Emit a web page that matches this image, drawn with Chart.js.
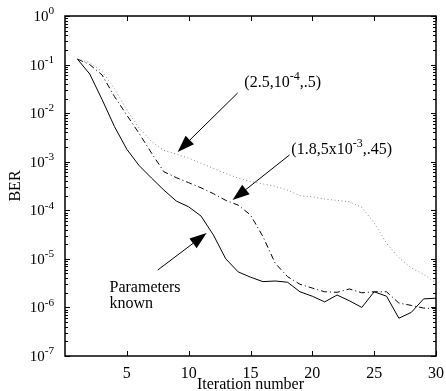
<!DOCTYPE html>
<html>
<head>
<meta charset="utf-8">
<script src="https://cdn.jsdelivr.net/npm/chart.js@4.4.0/dist/chart.umd.min.js"></script>
<style>
  body { margin: 0; background: #fff; }
  canvas { display: block; }
</style>
</head>
<body>
<canvas id="myChart" width="446" height="391"></canvas>
<script>
var iterations = [];
for (var i = 1; i <= 30; i++) iterations.push(i);

var berKnown = [0.13, 0.064, 0.019, 0.0053, 0.0018, 8.3e-4, 4.6e-4, 2.6e-4, 1.55e-4, 1.18e-4,
  7.6e-5, 3.1e-5, 1.0e-5, 5.4e-6, 4.2e-6, 3.4e-6, 3.5e-6, 3.3e-6, 2.1e-6, 1.7e-6,
  1.3e-6, 1.8e-6, 1.37e-6, 1.0e-6, 2.1e-6, 1.7e-6, 6.0e-7, 7.9e-7, 1.5e-6, 1.55e-6];

var berDashDot = [0.13, 0.10, 0.061, 0.022, 0.0091, 0.0038, 0.0015, 6.2e-4, 4.7e-4, 3.7e-4,
  2.9e-4, 2.2e-4, 1.6e-4, 1.28e-4, 8e-5, 2.9e-5, 8.1e-6, 4.3e-6, 3.0e-6, 2.5e-6,
  2.1e-6, 2.05e-6, 2.4e-6, 2.0e-6, 2.1e-6, 2.1e-6, 1.23e-6, 1.1e-6, 0.97e-6, 0.95e-6];

var berDotted = [0.13, 0.11, 0.072, 0.032, 0.0116, 0.0049, 0.0026, 0.0017, 0.00144, 0.00118,
  9.3e-4, 7.3e-4, 5.7e-4, 4.6e-4, 3.9e-4, 3.5e-4, 3.1e-4, 2.6e-4, 2.0e-4, 1.9e-4,
  1.7e-4, 1.6e-4, 1.5e-4, 1.15e-4, 5.5e-5, 2.1e-5, 1.05e-5, 6.5e-6, 4.8e-6, 3.2e-6];

var xTicks = [5, 10, 15, 20, 25, 30];
var yExponents = [0, -1, -2, -3, -4, -5, -6, -7];

// annotations: text parts [text, isSuperscript] at data x/y, arrows [x0, y0, x1, y1] in data units
var notes = [
  { parts: [['(2.5,10', 0], ['-4', 1], [',.5)', 0]], x: 14.5, y: Math.pow(10, -1.36) },
  { parts: [['(1.8,5x10', 0], ['-3', 1], [',.45)', 0]], x: 18.3, y: Math.pow(10, -2.74) },
  { parts: [['Parameters', 0]], x: 3.6, y: Math.pow(10, -5.58) },
  { parts: [['known', 0]], x: 3.6, y: Math.pow(10, -5.91) }
];
var arrows = [
  [13.96, Math.pow(10, -1.585), 9.11, Math.pow(10, -2.80)],
  [18.16, Math.pow(10, -2.86), 13.55, Math.pow(10, -3.79)],
  [7.5, Math.pow(10, -5.23), 11.45, Math.pow(10, -4.47)]
];

var serif = '"Liberation Serif", "Times New Roman", serif';

function pts(vals) {
  return vals.map(function (v, k) { return { x: iterations[k], y: v }; });
}

function drawSup(c, parts, x, y, size, align) {
  var w = 0;
  parts.forEach(function (p) {
    c.font = (p[1] ? size * 0.75 : size) + 'px ' + serif;
    w += c.measureText(p[0]).width;
  });
  var cx = align === 'right' ? x - w : x;
  c.textBaseline = 'alphabetic';
  c.textAlign = 'left';
  parts.forEach(function (p) {
    c.font = (p[1] ? size * 0.75 : size) + 'px ' + serif;
    c.fillText(p[0], cx, p[1] ? y - size * 0.45 : y);
    cx += c.measureText(p[0]).width;
  });
}

var decor = {
  id: 'decor',
  afterDraw: function (chart) {
    var c = chart.ctx, a = chart.chartArea;
    var xs = chart.scales.x, ys = chart.scales.y;
    c.save();
    c.strokeStyle = '#000';
    c.fillStyle = '#000';
    c.lineWidth = 1;

    // ticks inward on all sides
    c.beginPath();
    xTicks.forEach(function (t) {
      var px = Math.round(xs.getPixelForValue(t)) + 0.5;
      c.moveTo(px, a.bottom); c.lineTo(px, a.bottom - 5);
      c.moveTo(px, a.top); c.lineTo(px, a.top + 5);
    });
    yExponents.forEach(function (e) {
      var py = Math.round(ys.getPixelForValue(Math.pow(10, e))) + 0.5;
      c.moveTo(a.left, py); c.lineTo(a.left + 5, py);
      c.moveTo(a.right, py); c.lineTo(a.right - 5, py);
      if (e > -7) {
        for (var m = 2; m <= 9; m++) {
          var my = Math.round(ys.getPixelForValue(m * Math.pow(10, e - 1))) + 0.5;
          c.moveTo(a.left, my); c.lineTo(a.left + 3, my);
          c.moveTo(a.right, my); c.lineTo(a.right - 3, my);
        }
      }
    });
    c.stroke();

    // frame
    c.lineWidth = 1.5;
    c.strokeRect(a.left, a.top, a.right - a.left, a.bottom - a.top);

    // x tick labels
    c.font = '16px ' + serif;
    c.textAlign = 'center';
    c.textBaseline = 'alphabetic';
    xTicks.forEach(function (t) {
      c.fillText(String(t), xs.getPixelForValue(t), a.bottom + 22);
    });
    c.fillText('Iteration number', (a.left + a.right) / 2, a.bottom + 33);

    // y tick labels
    yExponents.forEach(function (e) {
      var py = ys.getPixelForValue(Math.pow(10, e));
      drawSup(c, [['10', 0], [String(e), 1]], 54, py + 5, 15, 'right');
    });

    // y title
    c.save();
    c.translate(16, (a.top + a.bottom) / 2);
    c.rotate(-Math.PI / 2);
    c.font = '16px ' + serif;
    c.textAlign = 'center';
    c.textBaseline = 'middle';
    c.fillText('BER', 0, 0);
    c.restore();

    // annotation text
    notes.forEach(function (n) {
      drawSup(c, n.parts, xs.getPixelForValue(n.x), ys.getPixelForValue(n.y) + 5, 16, 'left');
    });

    // arrows
    c.lineWidth = 1;
    arrows.forEach(function (ar) {
      var x0 = xs.getPixelForValue(ar[0]), y0 = ys.getPixelForValue(ar[1]);
      var x1 = xs.getPixelForValue(ar[2]), y1 = ys.getPixelForValue(ar[3]);
      var ang = Math.atan2(y1 - y0, x1 - x0);
      var L = 17, W = 6;
      var bx = x1 - L * Math.cos(ang), by = y1 - L * Math.sin(ang);
      c.beginPath();
      c.moveTo(x0, y0); c.lineTo(bx, by);
      c.stroke();
      c.beginPath();
      c.moveTo(x1, y1);
      c.lineTo(bx + W * Math.sin(ang), by - W * Math.cos(ang));
      c.lineTo(bx - W * Math.sin(ang), by + W * Math.cos(ang));
      c.closePath();
      c.fill();
    });
    c.restore();
  }
};

var ctx = document.getElementById('myChart').getContext('2d');
var myChart = new Chart(ctx, {
  type: 'line',
  data: {
    datasets: [{
      label: '(2.5,1e-4,.5)',
      data: pts(berDotted),
      borderColor: '#8a8a8a',
      borderWidth: 1,
      borderDash: [1, 2.5],
      pointRadius: 0,
      tension: 0
    }, {
      label: '(1.8,5e-3,.45)',
      data: pts(berDashDot),
      borderColor: '#000',
      borderWidth: 1,
      borderDash: [6, 3, 1, 3],
      pointRadius: 0,
      tension: 0
    }, {
      label: 'Parameters known',
      data: pts(berKnown),
      borderColor: '#000',
      borderWidth: 1,
      pointRadius: 0,
      tension: 0
    }]
  },
  options: {
    responsive: false,
    maintainAspectRatio: false,
    animation: false,
    layout: { padding: { left: 65, right: 10, top: 16, bottom: 35 } },
    plugins: { legend: { display: false }, tooltip: { enabled: false } },
    scales: {
      x: { type: 'linear', min: 0, max: 30, display: false },
      y: { type: 'logarithmic', min: 1e-7, max: 1, display: false }
    }
  },
  plugins: [decor]
});
</script>
</body>
</html>
